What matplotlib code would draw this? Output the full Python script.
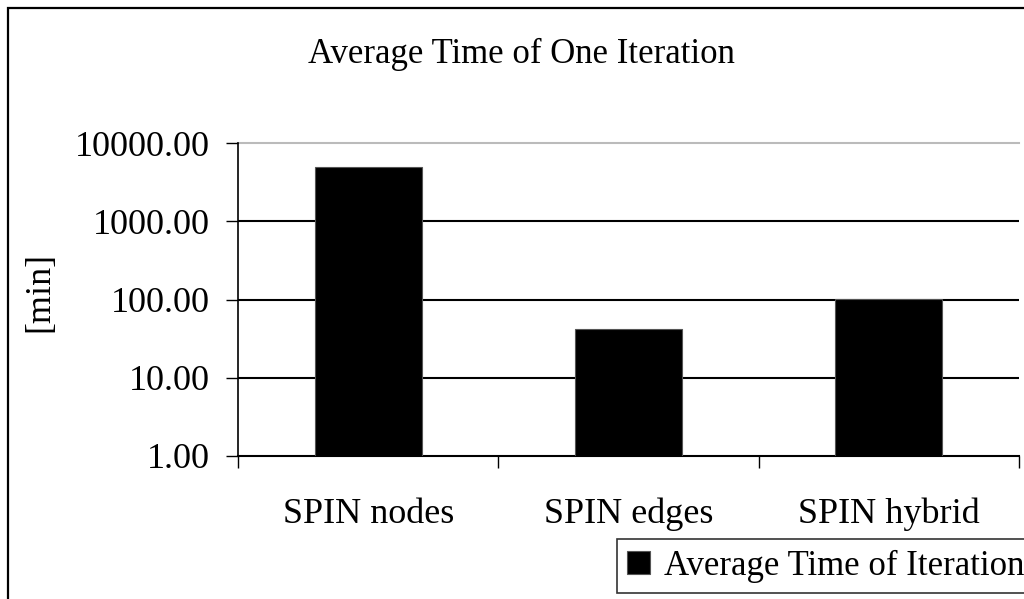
import matplotlib
matplotlib.use("Agg")
import matplotlib.pyplot as plt
from matplotlib.patches import Rectangle
from matplotlib.ticker import FixedLocator, NullFormatter

categories = ["SPIN nodes", "SPIN edges", "SPIN hybrid"]
avg_time = [4980, 42, 102]
series_name = "Average Time of Iteration"
title = "Average Time of One Iteration"
ytick_vals = [1, 10, 100, 1000, 10000]

plt.rcParams['font.family'] = ['Liberation Serif', 'DejaVu Serif']
fs = 26

fig = plt.figure(figsize=(10.24, 5.99), dpi=100)
ax = fig.add_axes([238/1024, 1 - 456/599, (1019 - 238)/1024, (456 - 143)/599])

x = list(range(len(categories)))
ax.bar(x, avg_time, width=0.41, color="black", edgecolor="#555555", linewidth=0.8,
       label=series_name, zorder=3)

ax.set_yscale("log")
ax.set_ylim(1, 10000)
ax.set_xlim(-0.5, len(categories) - 0.5)
ax.yaxis.set_major_locator(FixedLocator(ytick_vals))
ax.yaxis.set_minor_locator(FixedLocator([]))
ax.set_yticklabels([f"{v:.2f}" for v in ytick_vals], fontsize=fs)
ax.tick_params(axis="y", direction="out", length=8.5, width=1, pad=12)

# category boundaries get the ticks, names sit in between
ax.set_xticks([i - 0.5 for i in range(len(categories) + 1)])
ax.xaxis.set_major_formatter(NullFormatter())
ax.set_xticks(x, minor=True)
ax.set_xticklabels(categories, minor=True, fontsize=fs)
ax.tick_params(axis="x", which="major", direction="out", length=8.5, width=1)
ax.tick_params(axis="x", which="minor", length=0, pad=30)

for v in ytick_vals[1:-1]:
    ax.axhline(v, color="black", linewidth=1.5, zorder=1)
ax.axhline(10000, color="#bbbbbb", linewidth=1.5, zorder=1, clip_on=False)

for s in ["right", "top"]:
    ax.spines[s].set_visible(False)
ax.spines["left"].set_linewidth(1.2)
ax.spines["bottom"].set_linewidth(1.5)

fig.text(40/1024, 1 - 292/599, "[min]", fontsize=fs, rotation=90, ha="center", va="center")
fig.text(521/1024, 1 - 54/599, title, fontsize=25, ha="center", va="center")

# outer chart frame, runs off the right and bottom edges
fig.patches.append(Rectangle((8/1024, -0.1), 1.2, 1 - 8/599 + 0.1, transform=fig.transFigure,
                             fill=False, edgecolor="black", linewidth=1.6))

leg = fig.legend(loc="upper left", bbox_to_anchor=(617/1024, 1 - 539/599), fontsize=25,
                 frameon=True, fancybox=False, handlelength=0.65, handleheight=0.65,
                 handletextpad=0.4, borderpad=0.3, borderaxespad=0)
leg.get_frame().set_edgecolor("black")
leg.get_frame().set_linewidth(1.2)

fig.savefig("out.png", dpi=100)
